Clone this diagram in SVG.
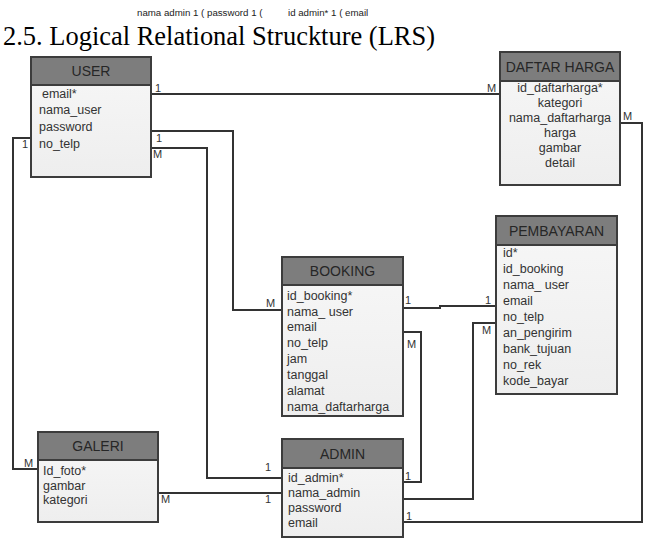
<svg xmlns="http://www.w3.org/2000/svg" width="650" height="539" viewBox="0 0 650 539">
<defs>
<linearGradient id="bodyG" x1="0" y1="0" x2="0" y2="1">
<stop offset="0" stop-color="#f7f7f7"/>
<stop offset="1" stop-color="#eeeeee"/>
</linearGradient>
<style>
.box{fill:url(#bodyG);stroke:#3c3c3c;stroke-width:2}
.hdr{fill:#7d7d7d;stroke:#3c3c3c;stroke-width:2}
.ht{font-family:"Liberation Sans",Arial,sans-serif;font-size:14px;fill:#262626;text-anchor:middle}
.ft{font-family:"Liberation Sans",Arial,sans-serif;font-size:12.5px;fill:#333}
.fc{font-family:"Liberation Sans",Arial,sans-serif;font-size:12.5px;fill:#333;text-anchor:middle}
.ln{fill:none;stroke:#333;stroke-width:2}
.lb{font-family:"Liberation Sans",Arial,sans-serif;font-size:11px;fill:#333}
.top{font-family:"Liberation Sans",Arial,sans-serif;font-size:9.7px;fill:#222}
.title{font-family:"Liberation Serif","Times New Roman",serif;font-size:27px;fill:#000}
</style>
</defs>
<rect width="650" height="539" fill="#ffffff"/>
<text class="top" x="137" y="16">nama admin 1 ( password 1 (</text>
<text class="top" x="288" y="16">id admin* 1 ( email</text>
<text class="title" x="3" y="45" textLength="432" lengthAdjust="spacingAndGlyphs">2.5. Logical Relational Struckture (LRS)</text>

<g id="connectors">
<path class="ln" d="M151,94 H500"/>
<path class="ln" d="M151,131 H233 V310 H282"/>
<path class="ln" d="M151,148 H207 V478 H282"/>
<path class="ln" d="M31,138 H13 V469 H38"/>
<path class="ln" d="M158,493 H282"/>
<path class="ln" d="M403,308 H440 V306 H496"/>
<path class="ln" d="M403,332 H421 V482 H403"/>
<path class="ln" d="M496,323 H473 V499 H403"/>
<path class="ln" d="M620,123 H642 V522 H403"/>
<text class="lb" x="155" y="92">1</text>
<text class="lb" x="487" y="92">M</text>
<text class="lb" x="156" y="142">1</text>
<text class="lb" x="266" y="307">M</text>
<text class="lb" x="153" y="158">M</text>
<text class="lb" x="265" y="471">1</text>
<text class="lb" x="22" y="148">1</text>
<text class="lb" x="24" y="467">M</text>
<text class="lb" x="161" y="503">M</text>
<text class="lb" x="265" y="503">1</text>
<text class="lb" x="405" y="304">1</text>
<text class="lb" x="485" y="304">1</text>
<text class="lb" x="407" y="348">M</text>
<text class="lb" x="405" y="480">1</text>
<text class="lb" x="482" y="334">M</text>
<text class="lb" x="623" y="120">M</text>
<text class="lb" x="406" y="520">1</text>
</g>

<g id="user">
<rect class="box" x="31" y="57" width="120" height="120"/>
<rect class="hdr" x="31" y="57" width="120" height="28"/>
<text class="ht" x="91" y="76">USER</text>
<text class="ft" x="42" y="98">email*</text>
<text class="ft" x="39" y="114">nama_user</text>
<text class="ft" x="39" y="131">password</text>
<text class="ft" x="39" y="148">no_telp</text>
</g>

<g id="daftar_harga">
<rect class="box" x="500" y="52" width="120" height="133"/>
<rect class="hdr" x="500" y="52" width="120" height="29"/>
<text class="ht" x="560" y="72">DAFTAR HARGA</text>
<text class="fc" x="560" y="92">id_daftarharga*</text>
<text class="fc" x="560" y="107">kategori</text>
<text class="fc" x="560" y="122">nama_daftarharga</text>
<text class="fc" x="560" y="137">harga</text>
<text class="fc" x="560" y="152">gambar</text>
<text class="fc" x="560" y="167">detail</text>
</g>

<g id="pembayaran">
<rect class="box" x="496" y="216" width="121" height="178"/>
<rect class="hdr" x="496" y="216" width="121" height="29"/>
<text class="ht" x="556.5" y="236">PEMBAYARAN</text>
<text class="ft" x="503" y="257">id*</text>
<text class="ft" x="503" y="273">id_booking</text>
<text class="ft" x="503" y="289">nama_ user</text>
<text class="ft" x="503" y="305">email</text>
<text class="ft" x="503" y="321">no_telp</text>
<text class="ft" x="503" y="337">an_pengirim</text>
<text class="ft" x="503" y="353">bank_tujuan</text>
<text class="ft" x="503" y="369">no_rek</text>
<text class="ft" x="503" y="385">kode_bayar</text>
</g>

<g id="booking">
<rect class="box" x="282" y="257" width="121" height="159"/>
<rect class="hdr" x="282" y="257" width="121" height="28"/>
<text class="ht" x="342.5" y="276">BOOKING</text>
<text class="ft" x="287" y="300">id_booking*</text>
<text class="ft" x="287" y="316">nama_ user</text>
<text class="ft" x="287" y="331">email</text>
<text class="ft" x="287" y="347">no_telp</text>
<text class="ft" x="287" y="363">jam</text>
<text class="ft" x="287" y="379">tanggal</text>
<text class="ft" x="287" y="395">alamat</text>
<text class="ft" x="287" y="411">nama_daftarharga</text>
</g>

<g id="galeri">
<rect class="box" x="38" y="432" width="120" height="90"/>
<rect class="hdr" x="38" y="432" width="120" height="28"/>
<text class="ht" x="98" y="451">GALERI</text>
<text class="ft" x="43" y="475">Id_foto*</text>
<text class="ft" x="43" y="490">gambar</text>
<text class="ft" x="43" y="504">kategori</text>
</g>

<g id="admin">
<rect class="box" x="282" y="439" width="121" height="98"/>
<rect class="hdr" x="282" y="439" width="121" height="29"/>
<text class="ht" x="342.5" y="459">ADMIN</text>
<text class="ft" x="288" y="482">id_admin*</text>
<text class="ft" x="288" y="497">nama_admin</text>
<text class="ft" x="288" y="512">password</text>
<text class="ft" x="288" y="527">email</text>
</g>
</svg>
